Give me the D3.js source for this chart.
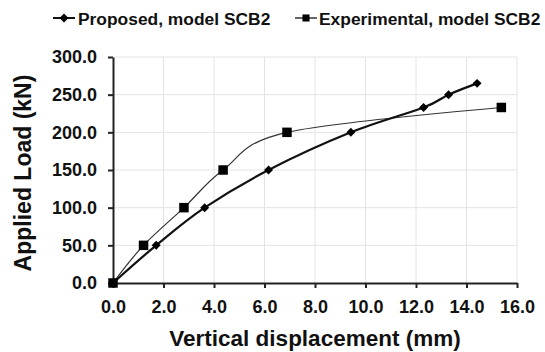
<!DOCTYPE html>
<html>
<head>
<meta charset="utf-8">
<script src="https://cdn.jsdelivr.net/npm/d3@7"></script>
<style>
  body { margin: 0; background: #fff; }
  text { font-family: "Liberation Sans", Arial, sans-serif; font-weight: bold; fill: #111; }
</style>
</head>
<body>
<svg width="545" height="352"></svg>
<script>
var proposedX = [0, 1.71, 3.63, 6.16, 9.42, 12.3, 13.29, 14.42];
var proposedY = [0, 50, 100, 150, 200, 233, 250, 265];
var experimentalX = [0, 1.21, 2.81, 4.36, 6.89, 15.38];
var experimentalY = [0, 50, 100, 150, 200, 233];
var xTicks = [0, 2, 4, 6, 8, 10, 12, 14, 16];
var yTicks = [0, 50, 100, 150, 200, 250, 300];

var proposed = proposedX.map((x, i) => ({x: x, y: proposedY[i]}));
var experimental = experimentalX.map((x, i) => ({x: x, y: experimentalY[i]}));

var svg = d3.select("svg");
var margin = {left: 113, right: 28, top: 57, bottom: 69};
var width = 545 - margin.left - margin.right;
var height = 352 - margin.top - margin.bottom;

var x = d3.scaleLinear().domain([0, 16]).range([0, width]);
var y = d3.scaleLinear().domain([0, 300]).range([height, 0]);

var g = svg.append("g")
    .attr("transform", "translate(" + margin.left + "," + margin.top + ")");

// gridlines
g.selectAll(".vgrid")
  .data(xTicks.slice(1))
  .enter().append("line")
    .attr("x1", d => x(d)).attr("x2", d => x(d))
    .attr("y1", 0).attr("y2", height)
    .attr("stroke", "#e4e4e4").attr("stroke-width", 1);
g.selectAll(".hgrid")
  .data(yTicks.slice(1))
  .enter().append("line")
    .attr("x1", 0).attr("x2", width)
    .attr("y1", d => y(d)).attr("y2", d => y(d))
    .attr("stroke", "#e4e4e4").attr("stroke-width", 1);

// axes
var xAxis = g.append("g")
    .attr("transform", "translate(0," + height + ")")
    .call(d3.axisBottom(x).tickValues(xTicks).tickFormat(d3.format(".1f")).tickSize(5).tickSizeOuter(0));
var yAxis = g.append("g")
    .call(d3.axisLeft(y).tickValues(yTicks).tickFormat(d3.format(".1f")).tickSize(5).tickSizeOuter(0));

[xAxis, yAxis].forEach(a => {
  a.select(".domain").attr("stroke", "#222").attr("stroke-width", 2);
  a.selectAll(".tick line").attr("stroke", "#222").attr("stroke-width", 2);
  a.selectAll("text").attr("font-size", 18).attr("font-family", "Liberation Sans, Arial, sans-serif")
    .attr("font-weight", "bold").attr("fill", "#111");
});
xAxis.selectAll("text").attr("y", 30).attr("dy", 0);
yAxis.selectAll("text").attr("x", -16);

// lines (excel-style smoothing)
var line = d3.line()
    .x(d => x(d.x))
    .y(d => y(d.y))
    .curve(d3.curveCardinal.tension(0));

g.append("path")
    .datum(experimental)
    .attr("d", line)
    .attr("fill", "none")
    .attr("stroke", "#333")
    .attr("stroke-width", 1.2);

g.append("path")
    .datum(proposed)
    .attr("d", line)
    .attr("fill", "none")
    .attr("stroke", "#111")
    .attr("stroke-width", 2.2);

var diamond = d3.symbol().type(d3.symbolSquare).size(40);
var square = d3.symbol().type(d3.symbolSquare).size(90);

g.selectAll(".sq")
  .data(experimental)
  .enter().append("path")
    .attr("d", square)
    .attr("transform", d => "translate(" + x(d.x) + "," + y(d.y) + ")")
    .attr("fill", "#000");

g.selectAll(".dm")
  .data(proposed)
  .enter().append("path")
    .attr("d", diamond)
    .attr("transform", d => "translate(" + x(d.x) + "," + y(d.y) + ") rotate(45)")
    .attr("fill", "#000");

// axis titles
svg.append("text")
    .attr("x", 315)
    .attr("y", 346)
    .attr("text-anchor", "middle")
    .attr("font-size", 22.5)
    .text("Vertical displacement (mm)");

svg.append("text")
    .attr("transform", "translate(31,173) rotate(-90)")
    .attr("text-anchor", "middle")
    .attr("font-size", 23)
    .text("Applied Load (kN)");

// legend
var legend = svg.append("g").attr("transform", "translate(0,18)");
legend.append("line").attr("x1", 53).attr("x2", 75).attr("y1", 0).attr("y2", 0)
    .attr("stroke", "#111").attr("stroke-width", 2);
legend.append("path").attr("d", diamond).attr("transform", "translate(64,0) rotate(45)").attr("fill", "#000");
legend.append("text").attr("x", 78).attr("y", 6.5).attr("font-size", 17.4).text("Proposed, model SCB2");

legend.append("line").attr("x1", 295).attr("x2", 317).attr("y1", 0).attr("y2", 0)
    .attr("stroke", "#333").attr("stroke-width", 1.5);
legend.append("path").attr("d", d3.symbol().type(d3.symbolSquare).size(50)).attr("transform", "translate(306,0)").attr("fill", "#000");
legend.append("text").attr("x", 319).attr("y", 6.5).attr("font-size", 17.4).text("Experimental, model SCB2");
</script>
</body>
</html>
